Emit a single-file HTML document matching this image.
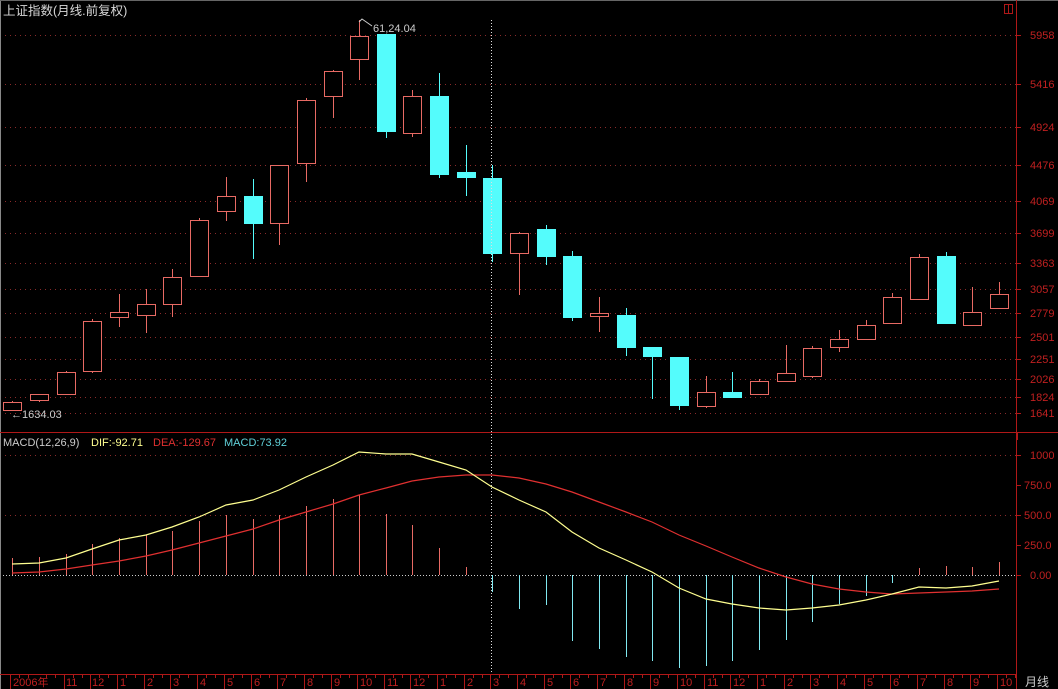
<!DOCTYPE html>
<html><head><meta charset="utf-8">
<style>
html,body{margin:0;padding:0;background:#000;}
svg{display:block;font-family:"Liberation Sans","Noto Sans CJK SC",sans-serif;}
</style></head>
<body>
<svg id="s" width="1058" height="689" viewBox="0 0 1058 689" xmlns="http://www.w3.org/2000/svg">
<rect width="1058" height="689" fill="#000"/>
<g id="grid"></g>
<g id="candles"></g>
<g id="macd"></g>
<!-- borders -->
<line x1="0.5" y1="0" x2="0.5" y2="689" stroke="#888" stroke-width="1"/>
<line x1="0" y1="0.5" x2="1058" y2="0.5" stroke="#666" stroke-width="1"/>
<line x1="1016.5" y1="0" x2="1016.5" y2="689" stroke="#b01818" stroke-width="1"/>
<line x1="0" y1="432.5" x2="1058" y2="432.5" stroke="#b01818" stroke-width="1"/>
<line x1="1017" y1="433" x2="1017" y2="440" stroke="#b01818" stroke-width="2"/>
<line x1="0" y1="674.5" x2="1016" y2="674.5" stroke="#b01818" stroke-width="1"/>
<rect x="1004.5" y="4.5" width="8" height="9" fill="none" stroke="#b01818"/>
<line x1="1008.5" y1="4.5" x2="1008.5" y2="13.5" stroke="#b01818"/>
<!-- crosshair -->
<line x1="491.5" y1="20" x2="491.5" y2="674" stroke="#ddd" stroke-dasharray="1,2"/>
<g id="axis"></g>
<!-- texts -->
<text x="3" y="15" font-size="12.5" fill="#d8d8d8">上证指数(月线.前复权)</text>
<text x="373" y="32" font-size="11" fill="#ccc">61,24.04</text>
<polyline points="359,22 362,19 372,26" fill="none" stroke="#ccc" stroke-width="1"/>
<text x="11" y="418" font-size="11" fill="#ccc">←1634.03</text>
<text x="3" y="446" font-size="11" fill="#ccc">MACD(12,26,9)</text>
<text x="91" y="446" font-size="11" fill="#ffff90">DIF:-92.71</text>
<text x="153" y="446" font-size="11" fill="#e03030">DEA:-129.67</text>
<text x="224" y="446" font-size="11" fill="#60d0d8">MACD:73.92</text>
<g font-size="11" fill="#c02020">
<text x="1030" y="39">5958</text><text x="1030" y="88">5416</text><text x="1030" y="131">4924</text>
<text x="1030" y="169">4476</text><text x="1030" y="205">4069</text><text x="1030" y="237">3699</text>
<text x="1030" y="267">3363</text><text x="1030" y="293">3057</text><text x="1030" y="317">2779</text>
<text x="1030" y="341">2501</text><text x="1030" y="363">2251</text><text x="1030" y="383">2026</text>
<text x="1030" y="401">1824</text><text x="1030" y="417">1641</text>
<text x="1030" y="459">1000</text><text x="1024" y="489">750.0</text><text x="1024" y="519">500.0</text>
<text x="1024" y="549">250.0</text><text x="1030" y="579">0.00</text>
</g>
<g font-size="11" fill="#c02020" id="blabels">
<text x="13" y="686">2006年</text>
<text x="66" y="686">11</text><text x="92" y="686">12</text><text x="120" y="686">1</text><text x="147" y="686">2</text><text x="173" y="686">3</text><text x="200" y="686">4</text><text x="227" y="686">5</text><text x="254" y="686">6</text><text x="280" y="686">7</text><text x="307" y="686">8</text><text x="334" y="686">9</text><text x="360" y="686">10</text><text x="387" y="686">11</text><text x="413" y="686">12</text>
<text x="440" y="686">1</text><text x="467" y="686">2</text><text x="493" y="686">3</text><text x="520" y="686">4</text><text x="547" y="686">5</text><text x="573" y="686">6</text><text x="600" y="686">7</text><text x="627" y="686">8</text><text x="653" y="686">9</text><text x="680" y="686">10</text><text x="707" y="686">11</text><text x="733" y="686">12</text>
<text x="760" y="686">1</text><text x="787" y="686">2</text><text x="813" y="686">3</text><text x="840" y="686">4</text><text x="867" y="686">5</text><text x="893" y="686">6</text><text x="920" y="686">7</text><text x="947" y="686">8</text><text x="973" y="686">9</text><text x="1000" y="686">10</text>
</g>
<text x="1025" y="686" font-size="12" fill="#ccc">月线</text>
</svg>
<script>
var NS="http://www.w3.org/2000/svg";
function el(p,t,a){var e=document.createElementNS(NS,t);for(var k in a)e.setAttribute(k,a[k]);document.getElementById(p).appendChild(e);return e;}
// grid
[35,84,127,165,201,233,263,289,313,337,359,379,397,413].forEach(function(y){
 el("grid","line",{x1:0,y1:y+.5,x2:1016,y2:y+.5,stroke:"#8a2a2a","stroke-dasharray":"1,4"});
 el("grid","line",{x1:1016,y1:y+.5,x2:1021,y2:y+.5,stroke:"#b01818"});});
[455,515].forEach(function(y){el("grid","line",{x1:0,y1:y+.5,x2:1016,y2:y+.5,stroke:"#8a2a2a","stroke-dasharray":"1,4"});});
el("grid","line",{x1:0,y1:575.5,x2:1016,y2:575.5,stroke:"#ccc","stroke-dasharray":"1,2"});
[455,485,515,545,575].forEach(function(y){el("grid","line",{x1:1016,y1:y+.5,x2:1021,y2:y+.5,stroke:"#b01818"});});
// candles: cx, high, bodyTop, bodyBot, low, up
var C=[[12,401,402,410,411,1],[39,394,394,400,402,1],[66,371,372,394,395,1],[92,319,321,371,373,1],[119,294,312,317,327,1],[146,289,304,315,333,1],[172,269,277,304,317,1],[199,218,220,276,277,1],[226,177,196,211,221,1],[253,179,196,223,259,0],[279,165,165,223,245,1],[306,98,100,163,182,1],[333,70,71,96,118,1],[359,20,36,59,80,1],[386,34,34,131,138,0],[412,90,96,133,137,1],[439,73,96,174,178,0],[466,145,172,177,196,0],[492,165,178,253,262,0],[519,232,233,253,295,1],[546,225,229,256,265,0],[572,251,256,317,321,0],[599,297,313,316,332,1],[626,308,315,347,356,0],[652,347,347,356,399,0],[679,357,357,405,410,0],[706,376,392,406,408,1],[732,372,392,397,397,0],[759,379,381,394,395,1],[786,345,373,381,382,1],[812,346,348,376,378,1],[839,330,339,347,352,1],[866,320,325,339,339,1],[892,293,297,323,323,1],[919,254,257,299,299,1],[946,252,256,323,324,0],[972,287,312,325,326,1],[999,282,294,308,309,1]];
var UP="#e86a64",DN="#54fcfc";
C.forEach(function(c){
 var col=c[5]?UP:DN;
 el("candles","line",{x1:c[0]+.5,y1:c[1],x2:c[0]+.5,y2:c[4],stroke:col});
 if(c[5]) el("candles","rect",{x:c[0]-8.5,y:c[2]+.5,width:18,height:Math.max(1,c[3]-c[2]),fill:"#000",stroke:col});
 else el("candles","rect",{x:c[0]-9,y:c[2],width:19,height:Math.max(2,c[3]-c[2]+1),fill:col});
});
// macd bars
var B=[558,557,554,544,538,535,531,521,515,519,515,506,499,495,514,525,548,567,592,609,605,641,649,657,661,668,666,661,650,640,622,604,596,583,568,566,567,562];
B.forEach(function(b,i){var x=C[i][0]+.5;el("macd","line",{x1:x,y1:575,x2:x,y2:b,stroke:b<575?UP:"#80e8f0"});});
var D=[564,563,558,549,540,535,527,517,505,500,490,477,465,452,454,454,462,470,487,500,512,532,548,560,572,588,599,604,608,610,608,605,600,594,587,588,586,581];
var E=[573,572,569,565,561,556,550,543,536,529,520,512,504,495,488,481,477,475,475,478,484,492,502,512,522,535,546,557,568,577,584,589,592,594,593,592,591,589];
function pl(a,col){el("macd","polyline",{points:a.map(function(y,i){return C[i][0]+","+y;}).join(" "),fill:"none",stroke:col,"stroke-width":1.2});}
pl(E,"#e03030");pl(D,"#ffff90");
// bottom axis ticks
for(var i=0;i<38;i++){var x=C[i][0]-1.5;
 if(i>=2||i==0) el("axis","line",{x1:x,y1:675,x2:x,y2:689,stroke:"#b01818"});
 [9,18].forEach(function(d){el("axis","line",{x1:x+d,y1:675,x2:x+d,y2:678,stroke:"#b01818"});});}
</script>
</body></html>
